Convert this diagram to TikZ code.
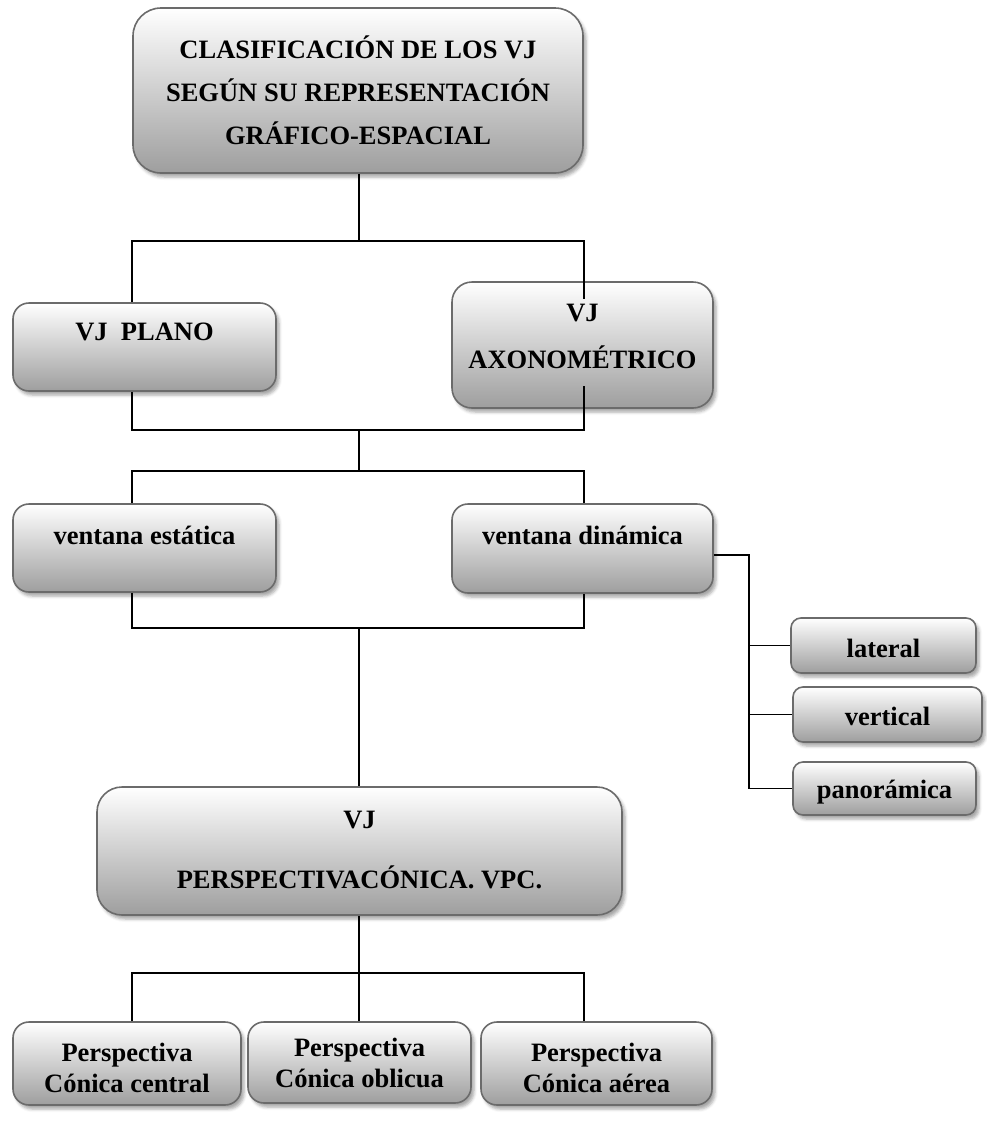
\documentclass[tikz,border=0pt]{standalone}
\usepackage{fontspec}
\setmainfont{Liberation Serif}
\usepackage{tikz}
\usetikzlibrary{shadows.blur, calc, positioning}

\begin{document}
\begin{tikzpicture}[x=1pt, y=-1pt,
        vjbox/.style={
                draw=black!58,
                line width=1.6pt,
                top color=white,
                bottom color=black!38,
                blur shadow={shadow xshift=3pt, shadow yshift=-4pt, shadow blur radius=3pt, shadow opacity=35},
                inner sep=0pt,
        },
        lbl/.style={font=\bfseries\fontsize{26.5}{#1}\selectfont, align=center, inner sep=0pt},
        link/.style={draw=black, line width=1.8pt},
        ]
            \useasboundingbox (0,0) rectangle (987,1122);

            \node[vjbox, rounded corners=28pt, minimum width=450pt, minimum height=165pt] (raiz) at (358,90.5) {};
            \node[vjbox, rounded corners=16pt, minimum width=263pt, minimum height=88pt] (plano) at (144.5,347) {};
            \node[vjbox, rounded corners=20pt, minimum width=261pt, minimum height=126pt] (axo) at (582.5,345) {};
            \node[vjbox, rounded corners=16pt, minimum width=263pt, minimum height=88pt] (estat) at (144.5,548) {};
            \node[vjbox, rounded corners=16pt, minimum width=261pt, minimum height=89pt] (dinam) at (582.5,548.5) {};
            \node[vjbox, rounded corners=10pt, minimum width=185pt, minimum height=55pt] (lateral) at (883.5,645.5) {};
            \node[vjbox, rounded corners=10pt, minimum width=189pt, minimum height=55pt] (vertical) at (887.5,714.5) {};
            \node[vjbox, rounded corners=10pt, minimum width=183pt, minimum height=53pt] (panor) at (884.5,788.5) {};
            \node[vjbox, rounded corners=25pt, minimum width=525pt, minimum height=128pt] (vpc) at (359.5,851) {};
            \node[vjbox, rounded corners=16pt, minimum width=228pt, minimum height=83pt] (central) at (127,1063.5) {};
            \node[vjbox, rounded corners=16pt, minimum width=223pt, minimum height=81pt] (oblicua) at (359.5,1062.5) {};
            \node[vjbox, rounded corners=16pt, minimum width=231pt, minimum height=83pt] (aerea) at (596.5,1063.5) {};

            \node[lbl=43pt] (raiz-t) at (358,90) {CLASIFICACIÓN DE LOS VJ\\SEGÚN SU REPRESENTACIÓN\\GRÁFICO-ESPACIAL};
            \node[lbl=30pt] (plano-t) at (144.5,332) {VJ\ \ PLANO};
            \node[lbl=47pt] (axo-t) at (582.5,336.5) {VJ\\AXONOMÉTRICO};
            \node[lbl=30pt] (estat-t) at (144.5,535) {ventana estática};
            \node[lbl=30pt] (dinam-t) at (582.5,535) {ventana dinámica};
            \node[lbl=30pt] (lateral-t) at (883.5,648) {lateral};
            \node[lbl=30pt] (vertical-t) at (887.5,716) {vertical};
            \node[lbl=30pt] (panor-t) at (884.5,792) {panorámica};
            \node[lbl=60pt] (vpc-t) at (359.5,850) {VJ\\PERSPECTIVACÓNICA. VPC.};
            \node[lbl=31pt] (central-t) at (127,1067.5) {Perspectiva\\Cónica central};
            \node[lbl=31pt] (oblicua-t) at (359.5,1063) {Perspectiva\\Cónica oblicua};
            \node[lbl=31pt] (aerea-t) at (596.5,1067.5) {Perspectiva\\Cónica aérea};

            \coordinate (bus1) at (359,241);
            \coordinate (bus2) at (359,430);
            \coordinate (bus3) at (359,471);
            \coordinate (bus4) at (359,628);
            \coordinate (bus5) at (359,973);
            \coordinate (rama) at (749,555);

            \draw[link] (raiz.south -| bus1) -- (bus1);
            \draw[link] (plano.north -| raiz.west) |- (bus1) -| ($(axo.north -| raiz.east)+(0,18)$);
            \draw[link] (plano.south -| raiz.west) |- (bus2) -| ($(axo.south -| raiz.east)+(0,-23)$);
            \draw[link] (bus2) -- (bus3);
            \draw[link] (estat.north -| raiz.west) |- (bus3) -| (dinam.north -| raiz.east);
            \draw[link] (estat.south -| raiz.west) |- (bus4) -| (dinam.south -| raiz.east);
            \draw[link] (bus4) -- (bus4 |- vpc.north);
            \draw[link] (dinam.east |- rama) -- (rama) |- (panor.west);
            \draw[link] (lateral.west -| rama) -- (lateral.west);
            \draw[link] (vertical.west -| rama) -- (vertical.west);
            \draw[link] (bus5 |- vpc.south) -- (bus5);
            \draw[link] (central.north -| raiz.west) |- (bus5) -| (aerea.north -| raiz.east);
            \draw[link] (bus5) -- (bus5 |- oblicua.north);
        \end{tikzpicture}
\end{document}
